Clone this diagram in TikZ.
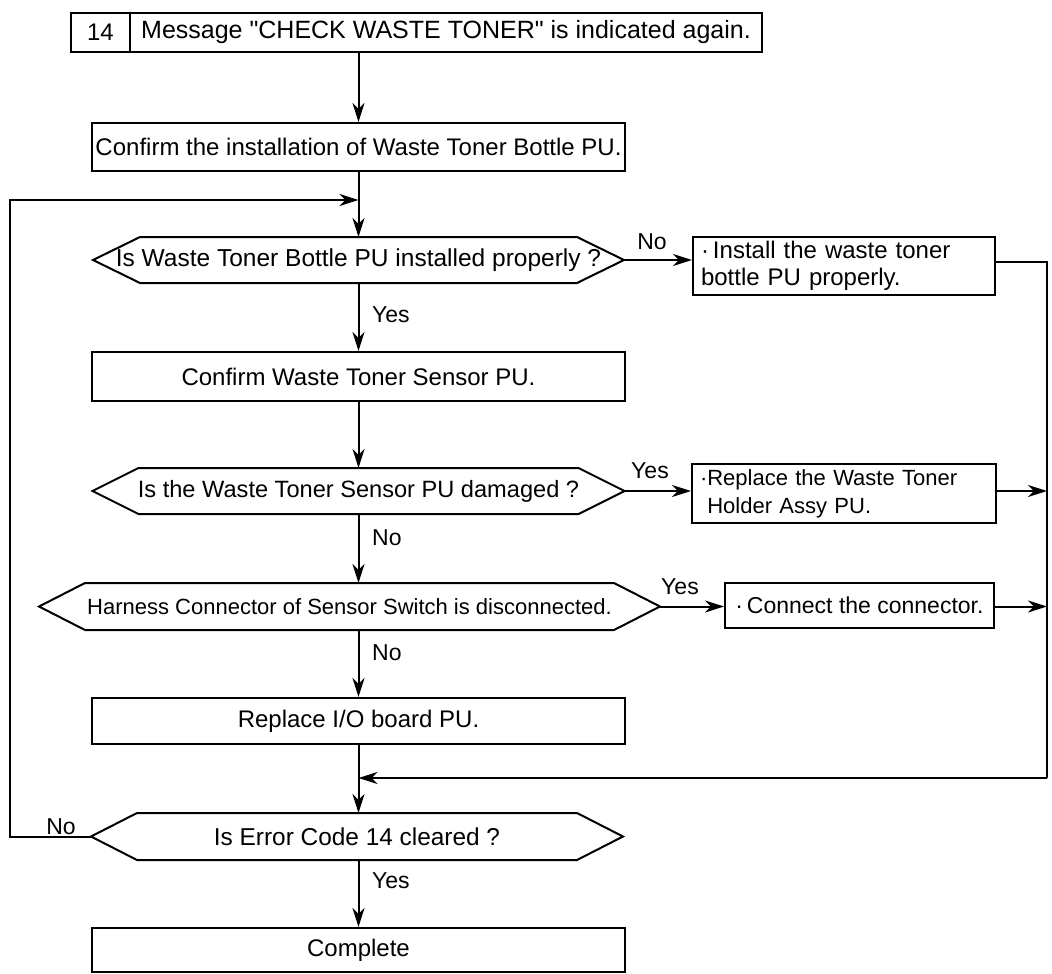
\documentclass[tikz,border=0pt]{standalone}
\usepackage{fontspec}
\setmainfont{Liberation Sans}[Ligatures=TeXOff]
\usetikzlibrary{arrows.meta}
\newcommand{\hexdraw}[4]{%
  \draw[ln] ([xshift=-#2pt,yshift=#3pt]#1.center) -- ([xshift=#2pt,yshift=#3pt]#1.center)
    -- ([xshift=#2pt+#4pt]#1.center) coordinate (#1r)
    -- ([xshift=#2pt,yshift=-#3pt]#1.center) -- ([xshift=-#2pt,yshift=-#3pt]#1.center)
    -- ([xshift=-#2pt-#4pt]#1.center) coordinate (#1l) -- cycle;
  \coordinate (#1n) at ([yshift=#3pt]#1.center);
  \coordinate (#1s) at ([yshift=-#3pt]#1.center);}
\begin{document}
\begin{tikzpicture}[x=1pt,y=-1pt,
  ln/.style={line width=2pt},
  arr/.style={line width=2pt,-{Stealth[length=19pt,width=12pt,inset=6pt]}},
  box/.style={draw,line width=2pt,rectangle,inner sep=0pt,font=\fontsize{24}{28}\selectfont},
  hex/.style={rectangle,inner sep=0pt},
  rbox/.style={draw,line width=2pt,rectangle,inner xsep=8pt,inner ysep=0pt,align=left},
  lbl/.style={inner sep=0pt,font=\fontsize{23}{27}\selectfont}
]
\useasboundingbox (0,0) rectangle (1052,974);

% top box
\node[box,minimum width=59pt,minimum height=39pt] (t14) at (100.5,32.5) {14};
\node[box,minimum width=632pt,minimum height=39pt,font=\fontsize{25}{29}\selectfont] (tmsg) at (446,32.5) {Message "CHECK WASTE TONER" is indicated again.};

% main column
\node[box,minimum width=533pt,minimum height=48pt] (b1) at (358.5,147) {Confirm the installation of Waste Toner Bottle PU.};
\node[hex,font=\fontsize{24.5}{28}\selectfont] (d1) at (358.5,260) {Is Waste Toner Bottle PU installed properly ?};
\node[box,minimum width=533pt,minimum height=49pt] (b2) at (358.5,376.5) {Confirm Waste Toner Sensor PU.};
\node[hex,font=\fontsize{23.6}{27}\selectfont] (d2) at (358.5,491) {Is the Waste Toner Sensor PU damaged ?};
\node[hex,font=\fontsize{22}{26}\selectfont] (d3) at (349.5,606.5) {Harness Connector of Sensor Switch is disconnected.};
\node[box,minimum width=533pt,minimum height=46pt] (b3) at (358.5,721) {Replace I/O board PU.};
\node[hex,font=\fontsize{24.4}{28}\selectfont] (d4) at (357,836.5) {Is Error Code 14 cleared ?};
\node[box,minimum width=533pt,minimum height=44pt] (b4) at (358.5,950) {Complete};

% hexagon outlines: name, half flat width, half height, tip
\hexdraw{d1}{218.5}{23}{47}
\hexdraw{d2}{220}{23}{46}
\hexdraw{d3}{264.5}{23.5}{46}
\hexdraw{d4}{220}{23.5}{46}

% right boxes
\node[rbox,text width=286pt,minimum height=58pt,font=\fontsize{24}{27}\selectfont] (r1) at (844,266) {·\,Install the waste toner\\ bottle PU properly.};
\node[rbox,text width=288pt,minimum height=59pt,font=\fontsize{22}{28}\selectfont] (r2) at (844,493.5) {·Replace the Waste Toner\\\hphantom{·}Holder Assy PU.};
\node[box,minimum width=269pt,minimum height=45pt,font=\fontsize{23}{27}\selectfont] (r3) at (859.5,605.5) {·\,Connect the connector.};

% coordinates for routing
\coordinate (rr1) at (1047,262);
\coordinate (rr2) at (1047,778);
\coordinate (lp1) at (10,836.5);
\coordinate (lp2) at (10,200);

% main flow
\draw[arr] (b1.north |- tmsg.south) -- (b1.north);
\draw[ln] (b1.south) -- (b1.south |- lp2);
\draw[arr] (b1.south |- lp2) -- (b1.south |- d1n);
\draw[arr] (b1.south |- d1s) -- (b2.north);
\draw[arr] (b2.south) -- (b2.south |- d2n);
\draw[arr] (b2.south |- d2s) -- (b2.south |- d3n);
\draw[arr] (b2.south |- d3s) -- (b3.north);
\draw[ln] (b3.south) -- (b3.south |- rr2);
\draw[arr] (b3.south |- rr2) -- (b3.south |- d4n);
\draw[arr] (b3.south |- d4s) -- (b4.north);

% side branches
\draw[arr] (d1r) -- (d1r -| r1.west);
\draw[arr] (d2r) -- (d2r -| r2.west);
\draw[arr] (d3r) -- (d3r -| r3.west);
\draw[ln] (r1.east |- rr1) -- (rr1) -- (rr2);
\draw[arr] (rr2) -- (b3.south |- rr2);
\draw[arr] (r2.east |- d2r) -- (rr1 |- d2r);
\draw[arr] (r3.east |- d3r) -- (rr1 |- d3r);

% loop back
\draw[arr] (d4l) -- (lp1) -- (lp2) -- (b1.south |- lp2);

% labels
\node[lbl,anchor=west] (y1) at (372,315) {Yes};
\node[lbl,anchor=west] (n2) at (372,538) {No};
\node[lbl,anchor=west] (n3) at (372,653) {No};
\node[lbl,anchor=west] (y4) at (372,881) {Yes};
\node[lbl] (n1) at (652,242) {No};
\node[lbl] (y2) at (650,471) {Yes};
\node[lbl] (y3) at (680,587) {Yes};
\node[lbl] (n4) at (61,827) {No};
\end{tikzpicture}
\end{document}
